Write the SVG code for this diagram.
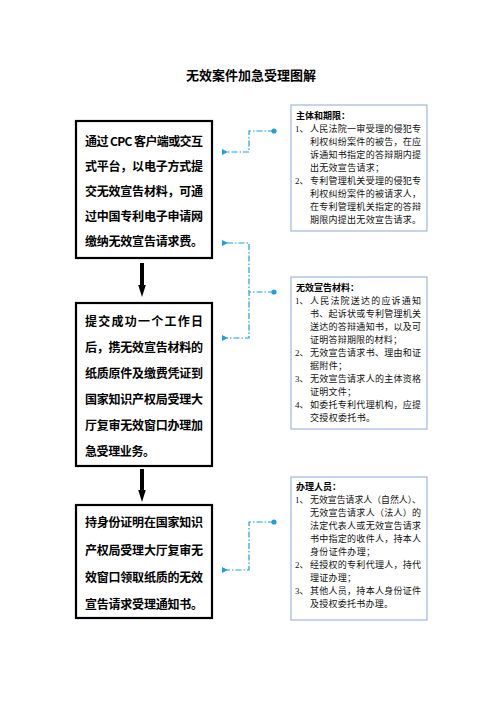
<svg xmlns="http://www.w3.org/2000/svg" width="496" height="702" viewBox="0 0 496 702">
<style>
.bx{fill:#fff;stroke:#000;stroke-width:2.2}
.pn{fill:#fff;stroke:#8eaad8;stroke-width:1}
.bt{font-family:"Noto Sans CJK SC","Liberation Serif",serif;font-size:12px;font-weight:bold;fill:#000}
.pt{font-family:"Liberation Serif","Noto Sans CJK SC",serif;font-size:9px;fill:#111}
.ph{font-family:"Noto Sans CJK SC",sans-serif;font-size:9px;font-weight:bold;fill:#000}
.title{font-family:"Noto Sans CJK SC",sans-serif;font-size:13px;font-weight:bold;fill:#000}
.cn{fill:none;stroke:#1f9fe0;stroke-width:1.2;stroke-dasharray:6 2 1.5 2}
.dot{fill:#1f9fe0}
.ar{fill:#000}
</style>
<defs>
<marker id="la" viewBox="0 0 6 6" refX="1" refY="3" markerWidth="6" markerHeight="6" orient="auto-start-reverse" markerUnits="userSpaceOnUse">
<path d="M6,0 L0,3 L6,6 z" fill="#1f9fe0"/>
</marker>
</defs>
<rect width="496" height="702" fill="#fff"/>
<text class="title" x="251" y="80" text-anchor="middle">无效案件加急受理图解</text>

<g id="box1">
<rect class="bx" x="76" y="121" width="136" height="137"/>
<text class="bt" x="85" y="146" textLength="118" lengthAdjust="spacing">通过 CPC 客户端或交互</text>
<text class="bt" x="85" y="171" textLength="118" lengthAdjust="spacing">式平台，以电子方式提</text>
<text class="bt" x="85" y="196" textLength="118" lengthAdjust="spacing">交无效宣告材料，可通</text>
<text class="bt" x="85" y="221" textLength="118" lengthAdjust="spacing">过中国专利电子申请网</text>
<text class="bt" x="85" y="246" textLength="118" lengthAdjust="spacing">缴纳无效宣告请求费。</text>
</g>

<g id="box2">
<rect class="bx" x="76" y="303" width="136" height="163"/>
<text class="bt" x="85" y="326" textLength="118" lengthAdjust="spacing">提交成功一个工作日</text>
<text class="bt" x="85" y="352" textLength="118" lengthAdjust="spacing">后，携无效宣告材料的</text>
<text class="bt" x="85" y="378" textLength="118" lengthAdjust="spacing">纸质原件及缴费凭证到</text>
<text class="bt" x="85" y="404" textLength="118" lengthAdjust="spacing">国家知识产权局受理大</text>
<text class="bt" x="85" y="430" textLength="118" lengthAdjust="spacing">厅复审无效窗口办理加</text>
<text class="bt" x="85" y="456" textLength="70" lengthAdjust="spacing">急受理业务。</text>
</g>

<g id="box3">
<rect class="bx" x="76" y="505" width="136" height="113"/>
<text class="bt" x="85" y="527" textLength="118" lengthAdjust="spacing">持身份证明在国家知识</text>
<text class="bt" x="85" y="555" textLength="118" lengthAdjust="spacing">产权局受理大厅复审无</text>
<text class="bt" x="85" y="582" textLength="118" lengthAdjust="spacing">效窗口领取纸质的无效</text>
<text class="bt" x="85" y="609" textLength="118" lengthAdjust="spacing">宣告请求受理通知书。</text>
</g>

<g id="panel1">
<rect class="pn" x="291" y="105" width="136" height="126"/>
<text class="ph" x="296" y="118.5">主体和期限：</text>
<text class="pt" x="295" y="131.5">1、</text>
<text class="pt" x="310" y="131.5" textLength="111" lengthAdjust="spacing">人民法院一审受理的侵犯专</text>
<text class="pt" x="310" y="144.5" textLength="111" lengthAdjust="spacing">利权纠纷案件的被告，在应</text>
<text class="pt" x="310" y="157.5" textLength="111" lengthAdjust="spacing">诉通知书指定的答辩期内提</text>
<text class="pt" x="310" y="170.5" textLength="74" lengthAdjust="spacing">出无效宣告请求；</text>
<text class="pt" x="295" y="183.5">2、</text>
<text class="pt" x="310" y="183.5" textLength="111" lengthAdjust="spacing">专利管理机关受理的侵犯专</text>
<text class="pt" x="310" y="196.5" textLength="111" lengthAdjust="spacing">利权纠纷案件的被请求人，</text>
<text class="pt" x="310" y="209.5" textLength="111" lengthAdjust="spacing">在专利管理机关指定的答辩</text>
<text class="pt" x="310" y="222.5" textLength="111" lengthAdjust="spacing">期限内提出无效宣告请求。</text>
</g>

<g id="panel2">
<rect class="pn" x="291" y="277" width="136" height="152"/>
<text class="ph" x="296" y="290.5">无效宣告材料：</text>
<text class="pt" x="295" y="303.5">1、</text>
<text class="pt" x="310" y="303.5" textLength="111" lengthAdjust="spacing">人民法院送达的应诉通知</text>
<text class="pt" x="310" y="316.5" textLength="111" lengthAdjust="spacing">书、起诉状或专利管理机关</text>
<text class="pt" x="310" y="329.5" textLength="111" lengthAdjust="spacing">送达的答辩通知书，以及可</text>
<text class="pt" x="310" y="342.5" textLength="92" lengthAdjust="spacing">证明答辩期限的材料；</text>
<text class="pt" x="295" y="355.5">2、</text>
<text class="pt" x="310" y="355.5" textLength="111" lengthAdjust="spacing">无效宣告请求书、理由和证</text>
<text class="pt" x="310" y="368.5" textLength="37" lengthAdjust="spacing">据附件；</text>
<text class="pt" x="295" y="381.5">3、</text>
<text class="pt" x="310" y="381.5" textLength="111" lengthAdjust="spacing">无效宣告请求人的主体资格</text>
<text class="pt" x="310" y="394.5" textLength="46" lengthAdjust="spacing">证明文件；</text>
<text class="pt" x="295" y="407.5">4、</text>
<text class="pt" x="310" y="407.5" textLength="111" lengthAdjust="spacing">如委托专利代理机构，应提</text>
<text class="pt" x="310" y="420.5" textLength="65" lengthAdjust="spacing">交授权委托书。</text>
</g>

<g id="panel3">
<rect class="pn" x="291" y="477" width="136" height="143"/>
<text class="ph" x="296" y="489.5">办理人员：</text>
<text class="pt" x="295" y="502.5">1、</text>
<text class="pt" x="310" y="502.5" textLength="111" lengthAdjust="spacingAndGlyphs">无效宣告请求人（自然人）、</text>
<text class="pt" x="310" y="515.5" textLength="111" lengthAdjust="spacing">无效宣告请求人（法人）的</text>
<text class="pt" x="310" y="528.5" textLength="111" lengthAdjust="spacing">法定代表人或无效宣告请求</text>
<text class="pt" x="310" y="541.5" textLength="111" lengthAdjust="spacing">书中指定的收件人，持本人</text>
<text class="pt" x="310" y="554.5" textLength="65" lengthAdjust="spacing">身份证件办理；</text>
<text class="pt" x="295" y="567.5">2、</text>
<text class="pt" x="310" y="567.5" textLength="111" lengthAdjust="spacing">经授权的专利代理人，持代</text>
<text class="pt" x="310" y="580.5" textLength="46" lengthAdjust="spacing">理证办理；</text>
<text class="pt" x="295" y="593.5">3、</text>
<text class="pt" x="310" y="593.5" textLength="111" lengthAdjust="spacing">其他人员，持本人身份证件</text>
<text class="pt" x="310" y="606.5" textLength="83" lengthAdjust="spacing">及授权委托书办理。</text>
</g>

<g id="connectors">
<path class="ar" d="M140,263 H144 V285 L145.8,285 L142,297 L138.2,285 L140,285 Z"/>
<path class="ar" d="M140,469 H144 V490 L145.8,490 L142,502 L138.2,490 L140,490 Z"/>
<path class="cn" d="M274,131 H249 V152 H227" marker-end="url(#la)"/>
<circle class="dot" cx="274" cy="131" r="2.6"/>
<path class="cn" d="M227,243 H249 V338 H227" marker-start="url(#la)" marker-end="url(#la)"/>
<path class="cn" d="M274,292 H249"/>
<circle class="dot" cx="274" cy="292" r="2.6"/>
<path class="cn" d="M274,522 H249 V570 H227" marker-end="url(#la)"/>
<circle class="dot" cx="274" cy="522" r="2.6"/>
</g>
</svg>
